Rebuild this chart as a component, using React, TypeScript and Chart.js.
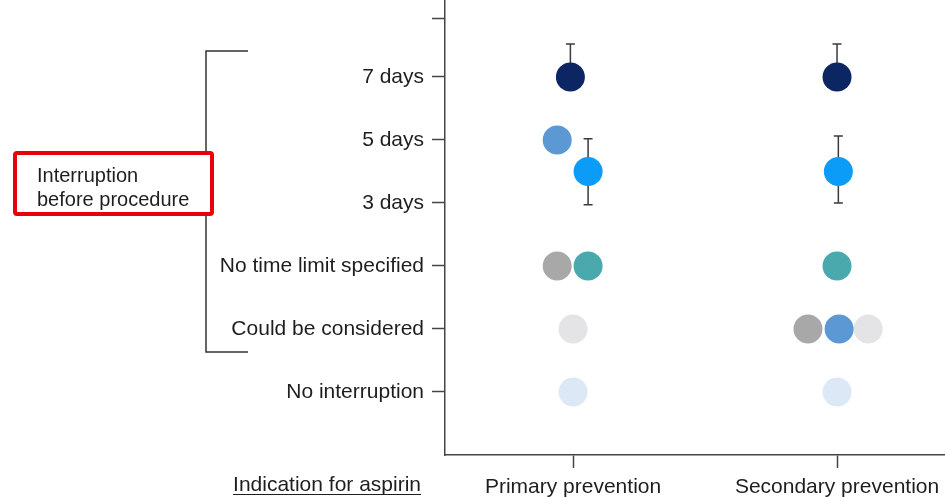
import React, { useEffect, useRef } from "react";
import { Chart, registerables } from "chart.js";

Chart.register(...registerables);

// Indication categories (x axis)
const indications = ["Primary prevention", "Secondary prevention"];
// Y categories, bottom to top (value 1..6); value 7 is an unlabeled top tick
const timingLabels = ["No interruption", "Could be considered", "No time limit specified", "3 days", "5 days", "7 days", ""];

// Each guideline: recommended timing (y value) per indication
const guideNames = ["G1", "G2", "G3", "G4", "G5", "G6", "G7"];
const guideColors = ["#0b2663", "#5b98d4", "#0a9cf6", "#a9a8a9", "#4aa9ad", "#e4e3e5", "#dce8f5"];
const guideValues: number[][] = [
  [6, 6],
  [5, 2],
  [4.5, 4.5],
  [3, 2],
  [3, 3],
  [2, 2],
  [1, 1],
];
// Horizontal jitter of each guideline's dot within its indication
const guideJitter: number[][] = [
  [-0.01, 0],
  [-0.06, 0.008],
  [0.057, 0.005],
  [-0.06, -0.11],
  [0.057, 0],
  [0, 0.118],
  [0, 0],
];
// Error bar ranges [low, high] per guideline per indication (null = none)
const guideErrors: ([number, number] | null)[][] = [
  [[6, 6.52], [6, 6.52]],
  [null, null],
  [[3.97, 5.02], [4.0, 5.06]],
  [null, null],
  [null, null],
  [null, null],
  [null, null],
];

const FONT = "'Liberation Sans', Arial, sans-serif";

const errorBarPlugin = {
  id: "errorBars",
  beforeDatasetsDraw(chart: any) {
    const { ctx, scales } = chart;
    ctx.save();
    ctx.strokeStyle = "#3a3a3a";
    ctx.lineWidth = 1.5;
    chart.data.datasets.forEach((ds: any, di: number) => {
      ds.data.forEach((pt: any, pi: number) => {
        const e = guideErrors[di][pi];
        if (!e) return;
        const x = scales.x.getPixelForValue(pt.x);
        const y1 = scales.y.getPixelForValue(e[0]);
        const y2 = scales.y.getPixelForValue(e[1]);
        ctx.beginPath();
        ctx.moveTo(x, y1);
        ctx.lineTo(x, y2);
        const y = scales.y.getPixelForValue(pt.y);
        [y1, y2].forEach((yy) => {
          if (Math.abs(yy - y) < 1) return;
          ctx.moveTo(x - 4.5, yy);
          ctx.lineTo(x + 4.5, yy);
        });
        ctx.stroke();
      });
    });
    ctx.restore();
  },
};

const annotationPlugin = {
  id: "annotations",
  afterDraw(chart: any) {
    const { ctx } = chart;
    ctx.save();
    // bracket
    ctx.strokeStyle = "#333";
    ctx.lineWidth = 1.5;
    ctx.beginPath();
    ctx.moveTo(248, 51);
    ctx.lineTo(206, 51);
    ctx.lineTo(206, 352);
    ctx.lineTo(248, 352);
    ctx.stroke();
    // red box
    ctx.fillStyle = "#ffffff";
    ctx.fillRect(16, 154, 195, 59);
    ctx.strokeStyle = "#e8000b";
    ctx.lineWidth = 4;
    ctx.beginPath();
    (ctx as any).roundRect ? ctx.roundRect(15, 153, 197, 61, 2) : ctx.rect(15, 153, 197, 61);
    ctx.stroke();
    ctx.fillStyle = "#1e1e1e";
    ctx.font = `20px ${FONT}`;
    ctx.textAlign = "left";
    ctx.textBaseline = "alphabetic";
    ctx.fillText("Interruption", 37, 182);
    ctx.fillText("before procedure", 37, 206);
    // x axis title
    ctx.font = `21px ${FONT}`;
    ctx.textAlign = "right";
    ctx.fillText("Indication for aspirin", 421, 491);
    const w = ctx.measureText("Indication for aspirin").width;
    ctx.strokeStyle = "#1e1e1e";
    ctx.lineWidth = 1.2;
    ctx.beginPath();
    ctx.moveTo(421 - w, 494.5);
    ctx.lineTo(421, 494.5);
    ctx.stroke();
    ctx.restore();
  },
};

export default function App() {
  const ref = useRef<HTMLCanvasElement>(null);
  useEffect(() => {
    if (!ref.current) return;
    const datasets = guideNames.map((name, gi) => ({
      label: name,
      data: indications.map((_, ii) => ({ x: ii + 1 + guideJitter[gi][ii], y: guideValues[gi][ii] })),
      backgroundColor: guideColors[gi],
      borderColor: guideColors[gi],
      pointRadius: 14.5,
      pointHoverRadius: 14.5,
      borderWidth: 0,
      clip: false,
    }));
    const font = { family: FONT, size: 21 };
    const chart = new Chart(ref.current, {
      type: "scatter",
      data: { datasets },
      plugins: [errorBarPlugin, annotationPlugin],
      options: {
        animation: false,
        responsive: false,
        maintainAspectRatio: false,
        layout: { padding: 0, autoPadding: false },
        plugins: { legend: { display: false }, tooltip: { enabled: false } },
        scales: {
          x: {
            type: "linear",
            min: 0.515,
            max: 2.409,
            afterBuildTicks: (axis: any) => {
              axis.ticks = indications.map((_, i) => ({ value: i + 1 }));
            },
            afterFit: (axis: any) => {
              axis.height = 42;
              axis.paddingLeft = 0;
              axis.paddingRight = 0;
            },
            ticks: {
              color: "#1e1e1e",
              font,
              padding: 7,
              maxRotation: 0,
              autoSkip: false,
              callback: (v: any) => indications[Math.round(v) - 1] ?? "",
            },
            grid: { display: true, drawOnChartArea: false, drawTicks: true, tickLength: 13, tickColor: "#444", tickWidth: 1.5 } as any,
            border: { display: true, color: "#444", width: 1.5 },
          },
          y: {
            type: "linear",
            min: 0,
            max: 7.22,
            afterBuildTicks: (axis: any) => {
              axis.ticks = [1, 2, 3, 4, 5, 6, 6.92].map((v) => ({ value: v }));
            },
            afterFit: (axis: any) => {
              axis.width = 445;
              axis.paddingTop = 0;
              axis.paddingBottom = 0;
            },
            ticks: {
              color: "#1e1e1e",
              font,
              padding: 8,
              autoSkip: false,
              callback: (v: any) => (v >= 6.5 ? "" : timingLabels[Math.round(v) - 1]),
            },
            grid: { display: true, drawOnChartArea: false, drawTicks: true, tickLength: 13, tickColor: "#444", tickWidth: 1.5 } as any,
            border: { display: true, color: "#444", width: 1.5 },
          },
        },
      } as any,
    });
    return () => chart.destroy();
  }, []);
  return (
    <div style={{ position: "absolute", left: 0, top: 0, width: 945, height: 497, background: "#fff" }}>
      <canvas ref={ref} width={945} height={497} style={{ width: 945, height: 497 }} />
    </div>
  );
}
